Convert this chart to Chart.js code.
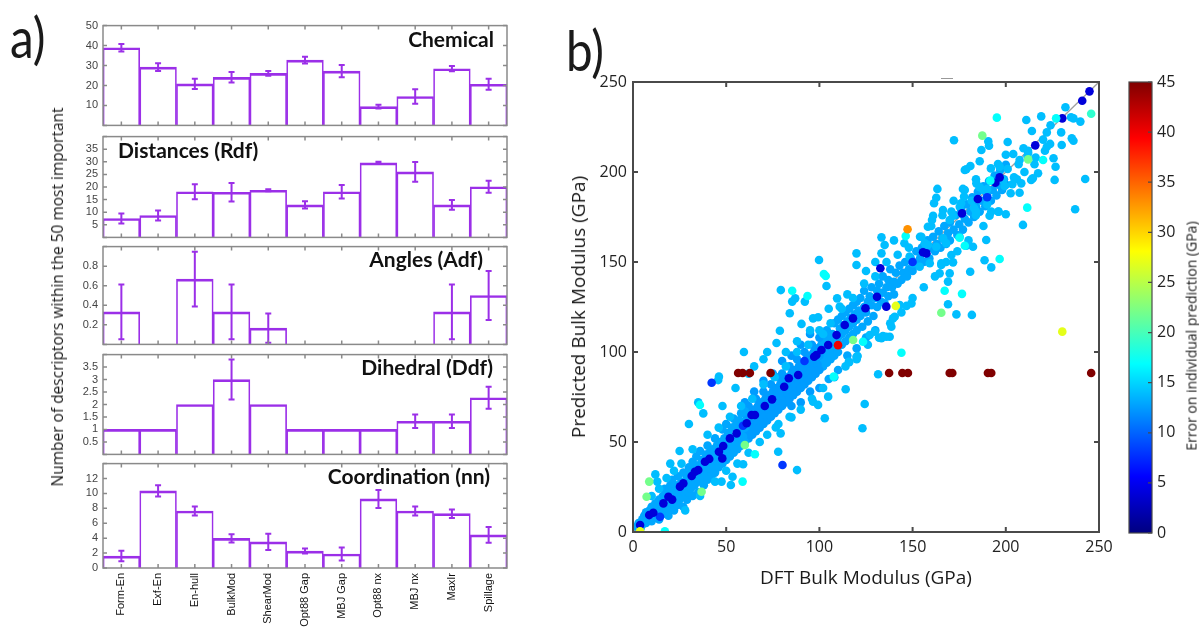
<!DOCTYPE html>
<html>
<head>
<meta charset="utf-8">
<script src="https://cdn.jsdelivr.net/npm/chart.js@4.4.1/dist/chart.umd.min.js"></script>
<style>
  body { margin: 0; background: #fff; }
  #page { position: relative; width: 1199px; height: 633px; overflow: hidden; background: #fff; }
  canvas { position: absolute; }
  .txt { position: absolute; white-space: nowrap; color: #1a1a1a; }
  .panel { font-family: Lato, sans-serif; font-size: 56px; line-height: 56px; transform: scaleX(0.85); transform-origin: left top; }
  .sub { font-family: Lato, sans-serif; font-weight: bold; font-size: 21px; line-height: 20px; color: #111; }
  .title { font-family: "Open Sans", sans-serif; transform: translate(-50%, -50%); }
  .rot { transform: translate(-50%, -50%) rotate(-90deg); }
</style>
</head>
<body>
<div id="page">
  <div class="txt panel" style="left:10px; top:9px;">a)</div>
  <div class="txt panel" style="left:566px; top:22px;">b)</div>

  <canvas id="c1" width="462" height="123" style="left:50px; top:14px;"></canvas>
  <canvas id="c2" width="462" height="124" style="left:50px; top:125px;"></canvas>
  <canvas id="c3" width="462" height="121" style="left:50px; top:235px;"></canvas>
  <canvas id="c4" width="462" height="123" style="left:50px; top:343px;"></canvas>
  <canvas id="c5" width="462" height="181" style="left:50px; top:452px;"></canvas>

  <div class="txt sub" style="right:705px; top:29px;">Chemical</div>
  <div class="txt sub" style="left:118px; top:140px;">Distances (Rdf)</div>
  <div class="txt sub" style="right:716px; top:249px;">Angles (Adf)</div>
  <div class="txt sub" style="right:706px; top:357px;">Dihedral (Ddf)</div>
  <div class="txt sub" style="right:709px; top:466px;">Coordination (nn)</div>
  <div class="txt title rot" style="left:57px; top:297px; font-size:15.5px;">Number of descriptors within the 50 most important</div>

  <canvas id="scatter" width="570" height="545" style="left:560px; top:60px;"></canvas>
  <canvas id="cbar" width="79" height="490" style="left:1120px; top:60px;"></canvas>
  <div style="position:absolute; left:941px; top:78px; width:12px; height:1px; background:#999;"></div>

  <div class="txt title rot" style="left:578px; top:307px; font-size:19px;">Predicted Bulk Modulus (GPa)</div>
  <div class="txt title" style="left:866px; top:577px; font-size:19px;">DFT Bulk Modulus (GPa)</div>
  <div class="txt title rot" style="left:1191px; top:336px; font-size:14px;">Error on individual prediction (GPa)</div>
</div>

<script>
// ---------- panel a) data ----------
var descriptorLabels = ['Form-En', 'Exf-En', 'En-hull', 'BulkMod', 'ShearMod', 'Opt88 Gap', 'MBJ Gap', 'Opt88 nx', 'MBJ nx', 'MaxIr', 'Spillage'];

var chemicalValues = [38.9, 29.2, 20.8, 24.1, 26.1, 32.7, 27.2, 9.4, 14.5, 28.4, 20.6];
var chemicalErrors = [1.9, 1.9, 2.6, 2.6, 1.2, 1.7, 3.1, 0.9, 3.6, 1.3, 2.8];
var chemicalTicks = [10, 20, 30, 40, 50];

var distanceValues = [7.5, 8.7, 18.1, 17.9, 18.7, 12.9, 18.1, 29.6, 26.0, 12.9, 20.1];
var distanceErrors = [2.0, 2.0, 3.0, 3.7, 0.4, 1.4, 2.7, 0.4, 3.9, 1.9, 2.4];
var distanceTicks = [5, 10, 15, 20, 25, 30, 35];

var angleValues = [0.333, 0, 0.667, 0.333, 0.167, 0, 0, 0, 0, 0.333, 0.5];
var angleErrors = [0.28, 0, 0.28, 0.28, 0.15, 0, 0, 0, 0, 0.28, 0.25];
var angleTicks = [0.2, 0.4, 0.6, 0.8];

var dihedralValues = [1, 1, 2, 3, 2, 1, 1, 1, 1.33, 1.33, 2.27];
var dihedralErrors = [0, 0, 0, 0.8, 0, 0, 0, 0, 0.27, 0.27, 0.44];
var dihedralTicks = [0.5, 1, 1.5, 2, 2.5, 3, 3.5];

var coordValues = [1.6, 10.35, 7.64, 3.97, 3.5, 2.27, 1.88, 9.26, 7.64, 7.29, 4.45];
var coordErrors = [0.7, 0.75, 0.6, 0.55, 1.1, 0.33, 0.87, 1.2, 0.6, 0.57, 1.05];
var coordTicks = [0, 2, 4, 6, 8, 10, 12];

// ---------- panel b) data: [DFT, predicted] in GPa, grouped by error level ----------
var scatterTicks = [0, 50, 100, 150, 200, 250];
var diagonalLine = [[0, 0], [250, 250]];

var ptsErr45 = [[56.4, 88.3], [58.8, 88.3], [62.7, 88.3], [73.8, 88.3], [137.4, 88.3], [144.5, 88.3], [147.5, 88.3],
    [169.9, 88.3], [171.3, 88.3], [190.4, 88.3], [192.2, 88.3], [245.8, 88.3]];
var ptsErr40 = [[110, 103.8]];
var ptsErr33 = [[147.3, 168.2]];
var ptsErr27 = [[141, 125.6], [3.8, 0.4], [230.3, 111.3]];
var ptsErr22 = [[187.4, 220.2], [165.4, 121.8], [118.1, 106.7], [8.7, 28], [7.3, 19.6], [36.8, 22.4], [60, 48.3], [212, 207]];
var ptsErr19 = [[245.8, 232.4]];
var ptsErr17 = [[195.2, 230.2], [227, 229.8], [220, 206.7], [191.7, 195.2], [211.5, 180.2], [146.3, 164.4], [178, 159],
    [196.7, 151.7], [102.4, 143.3], [103.4, 142.2], [85.4, 134], [93.6, 131.1], [176.5, 132.3], [167.2, 134], [144, 99.6],
    [107.7, 86.3], [123.4, 105.7], [35.9, 70.6], [58.8, 28], [65.4, 43.2], [17.1, 0.4], [175.2, 163.5]];
var ptsErr4 = [[3.8, 3.9], [8.7, 9.4], [10.9, 10.7], [16.3, 15.9], [19, 19.6], [21, 18], [25.2, 25.2], [27, 27], [31.5, 31.1],
    [33.2, 33.5], [35, 34.4], [38.6, 39], [40.9, 40.6], [46.1, 44.6], [48.4, 47.8], [47.9, 40.9], [52, 52], [55.6, 54.8],
    [61, 60.4], [63.6, 65], [65.4, 65], [70.7, 70], [74.6, 73.7], [81.1, 80.7], [83.6, 85.4], [88.6, 87.2], [97.2, 97.4],
    [98.4, 98.3], [101.1, 101.1], [104.7, 103.9], [109.2, 109.4], [113.6, 115], [118, 118.7], [124.7, 124.3],
    [130.9, 130.7], [135.9, 125.2], [132.7, 146.5], [155.6, 155.4], [157.4, 154.8], [176.5, 177], [185, 185],
    [194.4, 194], [196.7, 197], [215.8, 214.8], [230.3, 229.8], [241, 239.6], [244.9, 244.8]];
var ptsErr8 = [[80.2, 37.2], [42.2, 82.9], [14.5, 8.5], [59, 59], [92, 95], [150, 150], [190, 186]];
var ptsErr14 = [[59.5, 100], [45.7, 84.4], [46.1, 86.3], [37.7, 65.9], [35, 72], [30, 60], [25, 45], [20, 38], [13, 28],
    [12, 32], [48, 70], [55, 80], [62, 88], [65, 92], [70, 96], [72, 100], [77, 105], [79.3, 134.4], [85.4, 128], [87, 129.8],
    [92.2, 128], [84.1, 121.5], [90.4, 115.6], [96.6, 118.7], [99.3, 119.3], [78.8, 111.8], [99.8, 151.1], [103.8, 136.7],
    [109.5, 129.8], [110.9, 125.2], [119.9, 154.8], [119.9, 148.3], [133.3, 163.7], [135, 159.4], [133.3, 154.8],
    [102, 110], [95, 112], [88, 106], [82, 100], [105, 124], [115, 132], [125, 145], [130, 150], [140, 162],
    [145.6, 160.4], [148.4, 153], [150.2, 149.3], [153.8, 147.4], [159.2, 149.3], [154.7, 164], [156.5, 160.4],
    [158.2, 159.4], [161, 175.7], [160.4, 173.3], [158.2, 169.6], [163.3, 190.6], [162.7, 185.7], [161.5, 182.6],
    [166.3, 178.9], [170.8, 178], [171.7, 175.7], [169.9, 173.3], [176, 182.6], [175.3, 180.7], [176.6, 176.7],
    [177, 190.6], [177.6, 186.3], [178.8, 201.5], [178, 201.1], [181, 203.3], [172.2, 217.6], [186.9, 212.2],
    [186, 206], [190.6, 217], [191, 214.6], [201, 216.7], [200, 209.6], [195.8, 204.4], [196.7, 203], [201, 201.7],
    [204.4, 197], [208.3, 193.7], [203.5, 193.2], [209.5, 213.2], [211.9, 211.8], [214, 222.8], [211, 228.9],
    [219, 230.9], [222, 222], [229.7, 222], [235, 230.4], [236.3, 229.8], [235.4, 218.7], [236.3, 217.4], [222, 214],
    [221, 211.8], [223.8, 215.6], [211.6, 208.9], [212, 210.7], [207.4, 206.7], [206.9, 204.3], [215.4, 204.3],
    [217.3, 199.3], [214.5, 196.5], [213.6, 195.6], [225.6, 207.6], [226.7, 202.9], [226.2, 195.6], [242.6, 196.1],
    [198.5, 195.6], [199.4, 192.2], [184.2, 193.7], [186, 191.5], [188, 190], [190, 190.5], [202.6, 188.2],
    [207.4, 188.5], [181.7, 184], [183, 180], [184, 178], [184, 176], [190, 182], [191.3, 175.7], [192.2, 178],
    [196.1, 178], [200, 176.5], [237.2, 179.3], [209.2, 170.6], [175.2, 164], [178.8, 159], [182.4, 158.5],
    [189.5, 162.2], [166.3, 163.2], [168, 160.4], [162.7, 158.5], [188.6, 151], [192.2, 147], [170.8, 153.9],
    [171.7, 149.8], [165.4, 149.3], [164.5, 143.7], [165.4, 148.3], [169.9, 143.7], [169, 139.1], [180.9, 144.6],
    [169, 126.5], [173.5, 120.9], [181.8, 120.6], [143.1, 126.1], [146.7, 125.6], [149.4, 127], [127, 109.4],
    [129.7, 111.3], [134.1, 108.9], [135.9, 108.5], [138.6, 114], [139.5, 118.7], [140.4, 119.6], [119.9, 97.4],
    [115.8, 94.6], [120.5, 97.8], [116, 94.3], [114.1, 79.3], [104.7, 75.2], [102.9, 63.2], [123.1, 57.6],
    [124.3, 71.1], [79.2, 54.8], [76.6, 58.1], [85, 63.7], [96.6, 72.4], [99.3, 70.6], [77.9, 44.6], [88, 34.4],
    [131.5, 87.6], [52.5, 26.1], [53.4, 30.7], [47.5, 28], [59.1, 37.6], [133.3, 107.6], [137.7, 108.5]];
var bandEdge = [[10, 20], [14, 24], [18, 30], [22, 34], [26, 38], [28, 12], [32, 46], [36, 20], [40, 54], [44, 28], [46, 58],
    [50, 34], [52, 64], [56, 38], [58, 70], [62, 44], [64, 74], [68, 50], [70, 82], [72, 54], [76, 86], [78, 60], [82, 92],
    [84, 64], [88, 100], [90, 68], [94, 104], [96, 74], [100, 112], [102, 80], [106, 116], [108, 86], [112, 124], [114, 92],
    [118, 130], [120, 96], [124, 138], [126, 104], [130, 142], [132, 108], [136, 150], [138, 116], [142, 154], [144, 122],
    [148, 158], [150, 130], [154, 164], [156, 136], [160, 170], [162, 142], [166, 176], [168, 150], [172, 184], [174, 156],
    [178, 190], [180, 162], [184, 196], [188, 170], [192, 202], [196, 178], [204, 210], [206, 196], [210, 200], [216, 208],
    [220, 218], [224, 226], [230, 215], [232, 236], [240, 228]];
var bandLow = [[2, 3], [3, 5], [4, 2], [5, 7], [5, 4], [6, 9], [7, 5], [7, 11], [8, 7], [9, 12], [9, 9], [10, 6], [10, 14],
    [11, 11], [12, 8], [12, 16], [13, 13], [13, 10], [14, 18], [14, 7], [15, 15], [15, 12], [16, 20], [16, 10], [17, 14],
    [17, 24], [18, 17], [18, 12], [19, 22], [19, 9], [20, 19], [20, 26], [20, 14], [21, 16], [21, 29], [22, 22], [22, 12],
    [23, 19], [23, 26], [24, 15], [24, 31], [25, 23], [25, 18], [26, 28], [26, 20], [27, 14], [27, 33], [28, 25], [28, 21],
    [29, 30], [29, 18], [30, 27], [30, 36], [30, 22], [31, 33], [31, 24], [32, 29], [32, 39], [32, 20], [33, 26], [33, 35],
    [34, 31], [34, 42], [35, 28], [35, 37], [35, 22], [36, 33], [36, 45], [37, 30], [37, 40], [38, 35], [38, 26], [39, 43],
    [39, 32], [40, 38], [40, 48], [40, 29], [41, 35], [41, 44], [42, 40], [42, 31], [43, 46], [43, 37], [44, 42], [44, 52],
    [44, 33], [45, 39], [45, 48], [46, 44], [46, 36], [47, 50], [47, 41], [48, 46], [48, 57], [48, 38], [49, 43], [49, 52],
    [50, 48], [50, 40], [50, 60], [51, 45], [51, 55], [52, 50], [52, 42], [53, 58], [53, 47], [54, 53], [54, 63], [54, 44],
    [55, 49], [55, 59], [56, 55], [56, 46], [57, 62], [57, 51], [58, 57], [58, 66], [58, 48], [59, 53], [59, 61], [60, 58],
    [60, 67], [60, 50]];
var bandMid = [[61, 55], [61, 64], [62, 60], [62, 70], [62, 52], [63, 57], [63, 66], [64, 62], [64, 54], [65, 68], [65, 59],
    [66, 64], [66, 74], [66, 56], [67, 61], [67, 70], [68, 66], [68, 58], [69, 72], [69, 63], [70, 68], [70, 78], [70, 60],
    [71, 65], [71, 74], [72, 70], [72, 62], [73, 76], [73, 67], [74, 72], [74, 82], [74, 64], [75, 69], [75, 78], [76, 74],
    [76, 66], [77, 80], [77, 71], [78, 76], [78, 86], [78, 68], [79, 73], [79, 82], [80, 78], [80, 70], [80, 88], [81, 75],
    [81, 84], [82, 80], [82, 72], [83, 86], [83, 77], [84, 82], [84, 92], [84, 74], [85, 79], [85, 88], [86, 84], [86, 76],
    [87, 90], [87, 81], [88, 86], [88, 96], [88, 78], [89, 83], [89, 92], [90, 88], [90, 80], [91, 94], [91, 85], [92, 90],
    [92, 100], [92, 82], [93, 87], [93, 96], [94, 92], [94, 84], [95, 98], [95, 89], [96, 94], [96, 104], [96, 86], [97, 91],
    [97, 100], [98, 96], [98, 88], [99, 102], [99, 93], [100, 98], [100, 108], [100, 90], [60, 72], [65, 78], [70, 84],
    [75, 88], [80, 95], [85, 98], [90, 104], [95, 110], [85, 70], [90, 72], [95, 78], [100, 80]];
var bandHigh = [[101, 95], [101, 104], [102, 100], [102, 92], [103, 106], [103, 97], [104, 102], [104, 112], [104, 94],
    [105, 99], [105, 108], [106, 104], [106, 96], [107, 110], [107, 101], [108, 106], [108, 116], [108, 98], [109, 103],
    [110, 108], [110, 118], [110, 100], [111, 113], [112, 110], [112, 120], [112, 104], [113, 115], [114, 112], [114, 122],
    [114, 106], [115, 117], [116, 114], [116, 124], [116, 108], [117, 119], [118, 116], [118, 126], [118, 110], [119, 121],
    [120, 118], [120, 128], [120, 112], [121, 123], [122, 120], [122, 130], [123, 114], [124, 125], [124, 134], [125, 122],
    [126, 128], [126, 117], [127, 131], [128, 126], [128, 136], [129, 120], [130, 130], [131, 134], [131, 125], [132, 138],
    [133, 128], [134, 133], [134, 142], [135, 127], [136, 136], [137, 140], [137, 131], [138, 146], [139, 136], [140, 139],
    [140, 132], [141, 144], [142, 138], [143, 148], [144, 140], [145, 144], [146, 150], [147, 142], [148, 146], [149, 152],
    [150, 145], [151, 149], [152, 156], [153, 148], [154, 152], [155, 158], [156, 150], [157, 155], [158, 162], [159, 152],
    [160, 158], [161, 164], [162, 156], [163, 160], [164, 167], [165, 158], [166, 163], [167, 170], [168, 160], [169, 166],
    [170, 172], [170, 162], [172, 168], [173, 176], [174, 165], [175, 171], [176, 179], [177, 168], [178, 174], [179, 182],
    [180, 172], [181, 178], [182, 186], [183, 175], [184, 181], [185, 189], [186, 178], [187, 184], [188, 192], [189, 181],
    [190, 187], [191, 195], [192, 184], [193, 190], [194, 198], [195, 187], [196, 193], [197, 201], [198, 190], [199, 196],
    [200, 204], [200, 193], [105, 85], [110, 90], [115, 98], [120, 102], [125, 108], [130, 112]];

// colour bar range
var errorMin = 0;
var errorMax = 45;

const PURPLE = '#9b2fe8';

Chart.defaults.animation = false;
Chart.defaults.devicePixelRatio = 1;
Chart.defaults.font.family = 'Liberation Sans, Arial, sans-serif';

// jet colour map, v in [0,1]
function Jet (_v)
{
    const c = x => Math.round(255 * Math.max(0, Math.min(1, x)));
    return 'rgb(' + c(1.5 - Math.abs(4 * _v - 3)) + ',' + c(1.5 - Math.abs(4 * _v - 2)) + ',' + c(1.5 - Math.abs(4 * _v - 1)) + ')';
}

function ErrColor (_err)
{
    return Jet((_err - errorMin) / (errorMax - errorMin));
}

// box with inward ticks, like the original plots
const framePlugin =
{
    id: 'frame',
    afterDraw(chart, args, opts)
    {
        const ctx = chart.ctx;
        const a = chart.chartArea;
        const len = opts.tickLen || 4;
        ctx.save();
        ctx.strokeStyle = opts.color;
        ctx.lineWidth = opts.width;
        ctx.beginPath();
        if (opts.xTicks)
        {
            var xs = [];
            if (opts.xTicks === 'bars')
            {
                chart.getDatasetMeta(0).data.forEach(bar => xs.push(bar.x));
            } else
            {
                chart.scales.x.ticks.forEach(t => xs.push(chart.scales.x.getPixelForValue(t.value)));
            }
            xs.forEach(x => {
                ctx.moveTo(x, a.top); ctx.lineTo(x, a.top + len);
                ctx.moveTo(x, a.bottom); ctx.lineTo(x, a.bottom - len);
            });
        }
        if (opts.yTicks)
        {
            chart.scales.y.ticks.forEach(t => {
                const y = chart.scales.y.getPixelForValue(t.value);
                if (opts.yTicks !== 'right') { ctx.moveTo(a.left, y); ctx.lineTo(a.left + len, y); }
                ctx.moveTo(a.right, y); ctx.lineTo(a.right - len, y);
            });
        }
        ctx.stroke();
        ctx.strokeRect(a.left, a.top, a.right - a.left, a.bottom - a.top);
        ctx.restore();
    }
};

const errorBarPlugin =
{
    id: 'errorBars',
    afterDatasetsDraw(chart)
    {
        const ctx = chart.ctx;
        const ds = chart.data.datasets[0];
        const yScale = chart.scales.y;
        ctx.save();
        ctx.strokeStyle = PURPLE;
        ctx.lineWidth = 2;
        ctx.beginPath();
        chart.getDatasetMeta(0).data.forEach((bar, i) => {
            const e = ds.errors[i];
            if (!e) return;
            const yTop = yScale.getPixelForValue(ds.data[i] + e);
            const yBot = yScale.getPixelForValue(ds.data[i] - e);
            ctx.moveTo(bar.x, yTop); ctx.lineTo(bar.x, yBot);
            ctx.moveTo(bar.x - 3, yTop); ctx.lineTo(bar.x + 3, yTop);
            ctx.moveTo(bar.x - 3, yBot); ctx.lineTo(bar.x + 3, yBot);
        });
        ctx.stroke();
        ctx.restore();
    }
};

var panels =
[
    { id: 'c1', values: chemicalValues, errors: chemicalErrors, ticks: chemicalTicks, max: 50, step: 10 },
    { id: 'c2', values: distanceValues, errors: distanceErrors, ticks: distanceTicks, max: 40, step: 5 },
    { id: 'c3', values: angleValues, errors: angleErrors, ticks: angleTicks, max: 1, step: 0.2 },
    { id: 'c4', values: dihedralValues, errors: dihedralErrors, ticks: dihedralTicks, max: 4, step: 0.5 },
    { id: 'c5', values: coordValues, errors: coordErrors, ticks: coordTicks, max: 14, step: 2 }
];

panels.forEach((p, index) => DrawPanel(p, index === panels.length - 1));
DrawScatter();
DrawColorBar();

function DrawPanel (_p, _isLast)
{
    const config =
    {
        type: 'bar',
        data:
        {
            labels: descriptorLabels,
            datasets:
            [
                {
                    data: _p.values,
                    errors: _p.errors,
                    backgroundColor: 'rgba(255,255,255,0)',
                    borderColor: PURPLE,
                    borderWidth: { top: 2, left: 1, right: 1, bottom: 0 },
                    borderSkipped: false,
                    barPercentage: 1,
                    categoryPercentage: 1
                }
            ]
        },
        options:
        {
            responsive: false,
            layout: { padding: { top: 8, bottom: _isLast ? 0 : 8, left: 0, right: 5 } },
            plugins:
            {
                legend: { display: false },
                tooltip: { enabled: false },
                frame: { color: '#8a8a8a', width: 1.5, tickLen: 4, xTicks: 'bars', yTicks: 'both' }
            },
            scales:
            {
                x:
                {
                    display: _isLast,
                    grid: { display: false, drawTicks: false },
                    border: { display: false },
                    ticks: { autoSkip: false, maxRotation: 90, minRotation: 90, padding: 5, color: '#111', font: { size: 11 } },
                    afterFit: s => { s.height = _isLast ? 65 : 0; }
                },
                y:
                {
                    min: 0,
                    max: _p.max,
                    grid: { display: false, drawTicks: false },
                    border: { display: false },
                    ticks:
                    {
                        stepSize: _p.step,
                        autoSkip: false,
                        padding: 5,
                        color: '#444',
                        font: { size: 11 },
                        callback: v => {
                            const t = _p.ticks.find(k => Math.abs(k - v) < 1e-6);
                            return t === undefined ? '' : String(t);
                        }
                    },
                    afterFit: s => { s.width = 53; }
                }
            }
        },
        plugins: [framePlugin, errorBarPlugin]
    };
    new Chart(document.getElementById(_p.id), config);
}

function DrawScatter ()
{
    const groups =
    [
        [ptsErr45, 45], [ptsErr40, 40], [ptsErr33, 33], [ptsErr27, 27], [ptsErr22, 22], [ptsErr19, 19],
        [ptsErr17, 17], [ptsErr4, 4], [ptsErr8, 8], [ptsErr14, 14], [bandEdge, 14], [bandLow, 13], [bandMid, 12.5], [bandHigh, 13]
    ];
    var datasets = groups.map(g => ({
        data: g[0].map(p => ({ x: p[0], y: p[1] })),
        backgroundColor: ErrColor(g[1]),
        borderWidth: 0,
        pointRadius: 4.3
    }));
    datasets.push({
        data: diagonalLine.map(p => ({ x: p[0], y: p[1] })),
        showLine: true,
        borderColor: 'rgba(150,150,150,0.9)',
        borderWidth: 1.3,
        pointRadius: 0
    });

    const tickFont = { family: 'Open Sans', size: 16 };
    new Chart(document.getElementById('scatter'), {
        type: 'scatter',
        data: { datasets: datasets },
        options:
        {
            responsive: false,
            layout: { padding: { top: 22, right: 31, left: 0, bottom: 0 } },
            plugins:
            {
                legend: { display: false },
                tooltip: { enabled: false },
                frame: { color: '#4a4a4a', width: 2, tickLen: 5, xTicks: 'scale', yTicks: 'both' }
            },
            scales:
            {
                x:
                {
                    type: 'linear', min: 0, max: 250,
                    grid: { display: false, drawTicks: false },
                    border: { display: false },
                    afterBuildTicks: s => { s.ticks = scatterTicks.map(v => ({ value: v })); },
                    ticks: { padding: 6, color: '#222', font: tickFont },
                    afterFit: s => { s.height = 73; }
                },
                y:
                {
                    min: 0, max: 250,
                    grid: { display: false, drawTicks: false },
                    border: { display: false },
                    afterBuildTicks: s => { s.ticks = scatterTicks.map(v => ({ value: v })); },
                    ticks: { padding: 6, color: '#222', font: tickFont },
                    afterFit: s => { s.width = 73; }
                }
            }
        },
        plugins: [framePlugin]
    });
}

function DrawColorBar ()
{
    new Chart(document.getElementById('cbar'), {
        type: 'bar',
        data:
        {
            labels: [''],
            datasets:
            [
                {
                    data: [[errorMin, errorMax]],
                    backgroundColor: c => {
                        const a = c.chart.chartArea;
                        if (!a) return null;
                        const g = c.chart.ctx.createLinearGradient(0, a.bottom, 0, a.top);
                        for (var i = 0; i <= 8; i++)
                        {
                            g.addColorStop(i / 8, Jet(i / 8));
                        }
                        return g;
                    },
                    borderWidth: 0,
                    barPercentage: 1,
                    categoryPercentage: 1
                }
            ]
        },
        options:
        {
            responsive: false,
            layout: { padding: { top: 22, bottom: 17, left: 9, right: 0 } },
            plugins:
            {
                legend: { display: false },
                tooltip: { enabled: false },
                frame: { color: '#4a4a4a', width: 1.2, tickLen: 4, yTicks: 'right' }
            },
            scales:
            {
                x: { display: false },
                y:
                {
                    position: 'right',
                    min: errorMin, max: errorMax,
                    grid: { display: false, drawTicks: false },
                    border: { display: false },
                    ticks: { stepSize: 5, padding: 5, color: '#222', font: { family: 'Open Sans', size: 16 } },
                    afterFit: s => { s.width = 47; }
                }
            }
        },
        plugins: [framePlugin]
    });
}
</script>
</body>
</html>
